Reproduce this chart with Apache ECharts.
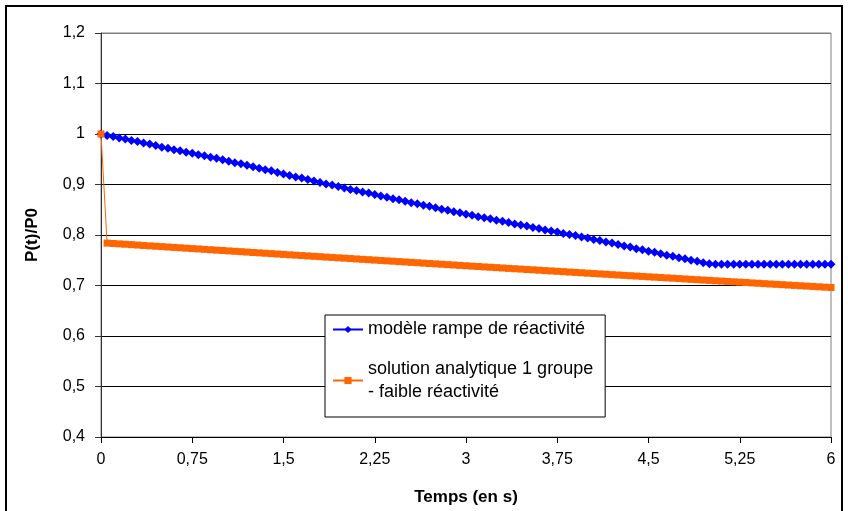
<!DOCTYPE html>
<html>
<head>
<meta charset="utf-8">
<script src="https://cdn.jsdelivr.net/npm/echarts@6/dist/echarts.min.js"></script>
<style>html,body{margin:0;padding:0;background:#fff}#c{width:848px;height:511px}</style>
</head>
<body>
<div id="c"></div>
<script>
// Time (s)
const times = [
0,0.05,0.1,0.15,0.2,0.25,0.3,0.35,0.4,0.45,0.5,0.55,0.6,0.65,0.7,0.75,0.8,0.85,0.9,0.95,
1,1.05,1.1,1.15,1.2,1.25,1.3,1.35,1.4,1.45,1.5,1.55,1.6,1.65,1.7,1.75,1.8,1.85,1.9,1.95,
2,2.05,2.1,2.15,2.2,2.25,2.3,2.35,2.4,2.45,2.5,2.55,2.6,2.65,2.7,2.75,2.8,2.85,2.9,2.95,
3,3.05,3.1,3.15,3.2,3.25,3.3,3.35,3.4,3.45,3.5,3.55,3.6,3.65,3.7,3.75,3.8,3.85,3.9,3.95,
4,4.05,4.1,4.15,4.2,4.25,4.3,4.35,4.4,4.45,4.5,4.55,4.6,4.65,4.7,4.75,4.8,4.85,4.9,4.95,
5,5.05,5.1,5.15,5.2,5.25,5.3,5.35,5.4,5.45,5.5,5.55,5.6,5.65,5.7,5.75,5.8,5.85,5.9,5.95,
6
];
// modèle rampe de réactivité
const rampe = [
1.000,0.997,0.995,0.992,0.990,0.987,0.985,0.982,0.980,0.977,0.974,0.972,0.969,0.967,0.964,0.962,0.959,0.957,0.954,0.952,
0.949,0.946,0.943,0.941,0.938,0.935,0.932,0.929,0.927,0.924,0.921,0.918,0.915,0.913,0.910,0.907,0.904,0.901,0.899,0.896,
0.893,0.890,0.888,0.885,0.883,0.880,0.877,0.875,0.872,0.870,0.867,0.864,0.862,0.859,0.857,0.854,0.851,0.849,0.846,0.844,
0.841,0.839,0.836,0.834,0.832,0.829,0.827,0.825,0.822,0.820,0.818,0.815,0.813,0.810,0.808,0.806,0.803,0.801,0.799,0.796,
0.794,0.791,0.789,0.786,0.784,0.781,0.778,0.776,0.773,0.771,0.768,0.766,0.763,0.760,0.758,0.755,0.753,0.750,0.748,0.745,
0.743,0.742,0.742,0.742,0.742,0.742,0.742,0.742,0.742,0.742,0.742,0.742,0.742,0.742,0.742,0.742,0.742,0.742,0.742,0.742,
0.742
];
// solution analytique 1 groupe - faible réactivité
const analytique = [
1.0000,0.7840,0.7832,0.7824,0.7817,0.7809,0.7801,0.7793,0.7785,0.7778,0.7770,
0.7762,0.7754,0.7747,0.7739,0.7731,0.7724,0.7716,0.7708,0.7700,0.7693,
0.7685,0.7677,0.7670,0.7662,0.7654,0.7647,0.7639,0.7631,0.7623,0.7616,
0.7608,0.7601,0.7593,0.7586,0.7578,0.7571,0.7563,0.7556,0.7548,0.7541,
0.7533,0.7526,0.7518,0.7511,0.7503,0.7496,0.7488,0.7481,0.7473,0.7466,
0.7458,0.7451,0.7443,0.7436,0.7428,0.7421,0.7413,0.7406,0.7398,0.7391,
0.7383,0.7376,0.7368,0.7361,0.7354,0.7347,0.7339,0.7332,0.7325,0.7317,
0.7310,0.7303,0.7295,0.7288,0.7281,0.7274,0.7266,0.7259,0.7252,0.7244,
0.7237,0.7230,0.7223,0.7215,0.7208,0.7201,0.7194,0.7187,0.7180,0.7172,
0.7165,0.7158,0.7151,0.7144,0.7137,0.7130,0.7122,0.7115,0.7108,0.7101,
0.7094,0.7087,0.7080,0.7073,0.7066,0.7059,0.7051,0.7044,0.7037,0.7030,
0.7023,0.7016,0.7009,0.7002,0.6995,0.6988,0.6981,0.6974,0.6967,0.6960
];
const seriesNames = ['modèle rampe de réactivité', 'solution analytique 1 groupe - faible réactivité'];
const legendLabels = ['modèle rampe de réactivité', 'solution analytique 1 groupe\n- faible réactivité'];
const xTitle = 'Temps (en s)';
const yTitle = 'P(t)/P0';

const FONT = '"Liberation Sans", Arial, sans-serif';
const comma = v => String(parseFloat(Number(v).toFixed(2))).replace('.', ',');

const chart = echarts.init(document.getElementById('c'), null, {renderer: 'canvas'});
chart.setOption({
  animation: false,
  backgroundColor: '#fff',
  textStyle: {fontFamily: FONT},
  graphic: [{
    type: 'rect', silent: true, z: -10,
    shape: {x: 6, y: 6, width: 836, height: 520},
    style: {fill: null, stroke: '#000', lineWidth: 2}
  }],
  grid: {left: 101, right: 17, top: 33, bottom: 73, show: true, borderColor: '#808080', borderWidth: 1, backgroundColor: 'transparent'},
  legend: {
    orient: 'vertical', left: 325, top: 315,
    padding: [3, 12, 2, 7], itemGap: 5, itemWidth: 30, itemHeight: 9,
    backgroundColor: '#fff', borderColor: '#000', borderWidth: 1,
    textStyle: {fontFamily: FONT, fontSize: 18, color: '#000', lineHeight: 23},
    formatter: n => legendLabels[seriesNames.indexOf(n)],
    data: [
      {name: seriesNames[0]},
      {name: seriesNames[1], textStyle: {padding: [23, 0, 0, 0]}}
    ]
  },
  xAxis: {
    type: 'value', min: 0, max: 6, interval: 0.75,
    name: xTitle, nameLocation: 'middle', nameGap: 52,
    nameTextStyle: {fontFamily: FONT, fontSize: 17, fontWeight: 'bold', color: '#000'},
    axisLine: {show: true, onZero: false, lineStyle: {color: '#000', width: 1}},
    axisTick: {show: true, inside: false, length: 6, lineStyle: {color: '#000'}},
    axisLabel: {fontFamily: FONT, fontSize: 16, color: '#000', margin: 15, formatter: comma},
    splitLine: {show: false}
  },
  yAxis: {
    type: 'value', min: 0.4, max: 1.2, interval: 0.1,
    name: yTitle, nameLocation: 'middle', nameGap: 60, nameRotate: 90,
    nameTextStyle: {fontFamily: FONT, fontSize: 17, fontWeight: 'bold', color: '#000'},
    axisLine: {show: true, lineStyle: {color: '#333', width: 1}},
    axisTick: {show: true, inside: false, length: 6, lineStyle: {color: '#333'}},
    axisLabel: {fontFamily: FONT, fontSize: 16, color: '#000', margin: 16, formatter: v => String(parseFloat(v.toFixed(1))).replace('.', ',')},
    splitLine: {show: true, lineStyle: {color: ['#000','#000','#000','#000','#000','#000','#000','#000','#808080'], width: 1}}
  },
  series: [
    {
      name: seriesNames[0], type: 'line',
      data: times.map((t, i) => [t, rampe[i]]),
      symbol: 'diamond', symbolSize: 9,
      itemStyle: {color: '#0000FF'},
      lineStyle: {color: '#0000FF', width: 1}
    },
    {
      name: seriesNames[1], type: 'line',
      data: times.map((t, i) => [t, analytique[i]]),
      symbol: 'rect', symbolSize: 7,
      itemStyle: {color: '#FF6600'},
      lineStyle: {color: '#FF6600', width: 1}
    }
  ]
});
</script>
</body>
</html>
